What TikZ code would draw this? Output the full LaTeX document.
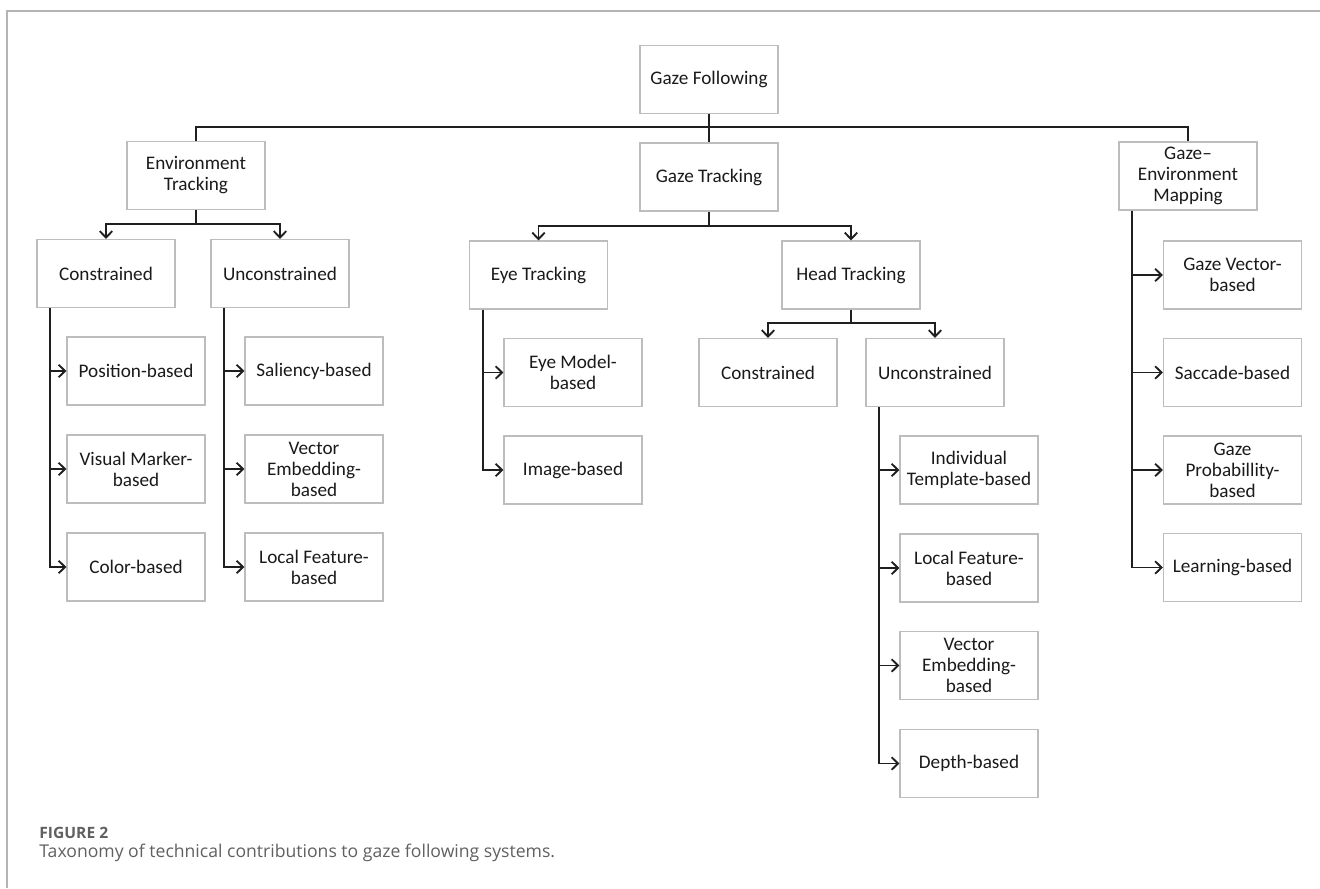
\documentclass[tikz,border=0pt]{standalone}
\usepackage{fontspec}
\setmainfont{Carlito}
\newfontfamily\capfont{Open Sans}
\usetikzlibrary{arrows.meta}
\definecolor{boxgray}{HTML}{BDBDBD}
\definecolor{framegray}{HTML}{B4B4B4}
\definecolor{txt}{HTML}{1A1A1A}
\definecolor{capgray}{HTML}{606060}
\tikzset{
  box/.style={draw=boxgray, line width=0.6pt, minimum width=69pt, minimum height=34pt,
    align=center, inner sep=1pt, text=txt, font=\fontsize{9.6}{10.5}\selectfont},
  conn/.style={line width=0.95pt, draw=black!88},
  arr/.style={conn, -{Straight Barb[length=3.2pt,width=6.2pt]}},
}
\begin{document}
\begin{tikzpicture}[x=0.5pt,y=-0.5pt]
\useasboundingbox (0,0) rectangle (1320,888);
\draw[framegray, line width=0.6pt] (7,888) -- (7,11) -- (1320,11);

% level 0/1
\node[box] (GF) at (709,79.5) {Gaze Following};
\node[box] (GT) at (709,177) {Gaze Tracking};
\node[box] (ET) at (196,175.5) {Environment\\Tracking};
\node[box] (GEM) at (1188,176) {Gaze--\\Environment\\Mapping};

% environment tracking
\node[box] (C1) at (106,273.5) {Constrained};
\node[box] (U1) at (280,273.5) {Unconstrained};
\node[box] (Pos) at (136,371) {Position-based};
\node[box] (Vis) at (136,469) {Visual Marker-\\based};
\node[box] (Col) at (136,567) {Color-based};
\node[box] (Sal) at (314,371) {Saliency-based};
\node[box] (VecE) at (314,469) {Vector\\Embedding-\\based};
\node[box] (LocE) at (314,567) {Local Feature-\\based};

% gaze tracking
\node[box] (Eye) at (538.5,275) {Eye Tracking};
\node[box] (Head) at (851,275) {Head Tracking};
\node[box] (EM) at (573,372.5) {Eye Model-\\based};
\node[box] (Img) at (573,470) {Image-based};
\node[box] (C2) at (768,372.5) {Constrained};
\node[box] (U2) at (935,372.5) {Unconstrained};
\node[box] (Ind) at (969,470) {Individual\\Template-based};
\node[box] (Loc2) at (969,568) {Local Feature-\\based};
\node[box] (Vec2) at (969,665.5) {Vector\\Embedding-\\based};
\node[box] (Dep) at (969,763.5) {Depth-based};

% mapping
\node[box] (GV) at (1232.5,275) {Gaze Vector-\\based};
\node[box] (Sac) at (1232.5,372.5) {Saccade-based};
\node[box] (Prob) at (1232.5,470) {Gaze\\Probabillity-\\based};
\node[box] (Lrn) at (1232.5,567.5) {Learning-based};

% connectors
\coordinate (b0) at (709,127);
\draw[conn] (GF) -- (GT);
\draw[conn] (ET.north) |- (b0) -| (GEM.north);

\coordinate (b1) at (196,224);
\draw[conn] (ET.south) -- (b1);
\draw[arr] (b1) -| (C1.north);
\draw[arr] (b1) -| (U1.north);

\coordinate (b2) at (709,226);
\draw[conn] (GT.south) -- (b2);
\draw[arr] (b2) -| (Eye.north);
\draw[arr] (b2) -| (Head.north);

\coordinate (b3) at (851,323);
\draw[conn] (Head.south) -- (b3);
\draw[arr] (b3) -| (C2.north);
\draw[arr] (b3) -| (U2.north);

\foreach \c in {Pos,Vis,Col} \draw[arr] ([xshift=7pt]C1.south west) |- (\c.west);
\foreach \c in {Sal,VecE,LocE} \draw[arr] ([xshift=7pt]U1.south west) |- (\c.west);
\foreach \c in {EM,Img} \draw[arr] ([xshift=7pt]Eye.south west) |- (\c.west);
\foreach \c in {Ind,Loc2,Vec2,Dep} \draw[arr] ([xshift=7pt]U2.south west) |- (\c.west);
\foreach \c in {GV,Sac,Prob,Lrn} \draw[arr] ([xshift=7pt]GEM.south west) |- (\c.west);

% caption
\node[anchor=base west, inner sep=0pt, text=capgray, font=\capfont\bfseries\fontsize{7.8}{8}\selectfont] (fig) at (39,838) {FIGURE 2};
\node[anchor=base west, inner sep=0pt, text=capgray, font=\capfont\fontsize{8.8}{10}\selectfont] (cap) at (39,857) {Taxonomy of technical contributions to gaze following systems.};
\end{tikzpicture}
\end{document}
